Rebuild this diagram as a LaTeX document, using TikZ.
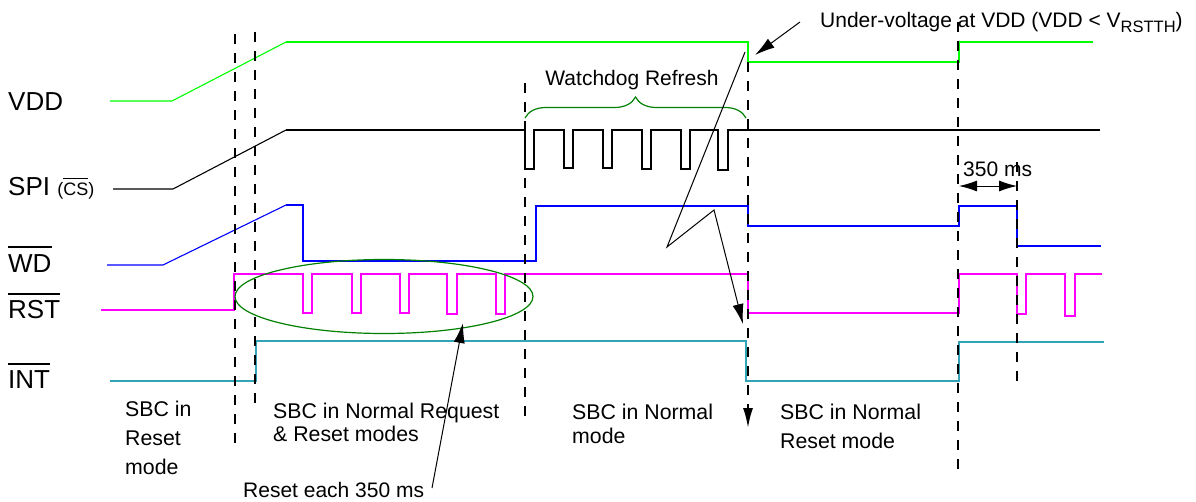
\documentclass[tikz,border=0pt]{standalone}
\usepackage{fontspec}
\setmainfont{Liberation Sans}
\usetikzlibrary{arrows.meta,decorations.pathreplacing}
\definecolor{vddgreen}{RGB}{0,255,0}
\definecolor{intteal}{RGB}{51,163,184}
\definecolor{bracegreen}{RGB}{0,128,0}
\definecolor{rstmag}{RGB}{255,0,255}
\definecolor{wdblue}{RGB}{0,0,255}
\newsavebox{\ovbox}
\newcommand\barred[3]{\sbox\ovbox{#3}\rlap{\rule[\dimexpr\ht\ovbox+#1\relax]{\wd\ovbox}{#2}}\usebox\ovbox}
\begin{document}
\begin{tikzpicture}[x=1pt,y=-1pt,
  sig/.style={line width=2pt},
  ramp/.style={line width=1.1pt},
  guide/.style={black,line width=2pt,dash pattern=on 10pt off 9pt},
  note/.style={black,line width=1pt,-{Latex[length=20pt,width=11pt]}},
  lbl/.style={font=\fontsize{26}{30}\selectfont,anchor=base west,inner sep=0pt},
  txt/.style={anchor=north west,inner sep=0pt,align=left},
]
\useasboundingbox (0,0) rectangle (1196,501);

% ---------- signals ----------
% VDD
\draw[vddgreen,ramp] (110,101) -- (172,101) -- (286,42);
\draw[vddgreen,sig] (286,42) -- (748,42) -- (748,62) -- (959,62) -- (959,42) -- (1093,42);
% SPI (CS)
\draw[black,ramp] (113,189) -- (173,189) -- (286,130);
\draw[black,sig] (286,130) -- (525,130) -- (525,169) -- (534,169) -- (534,130)
  -- (564,130) -- (564,168) -- (573,168) -- (573,130)
  -- (603,130) -- (603,168) -- (612,168) -- (612,130)
  -- (642,130) -- (642,169) -- (651,169) -- (651,130)
  -- (681,130) -- (681,169) -- (690,169) -- (690,130)
  -- (718,130) -- (718,170) -- (728,170) -- (728,130) -- (1100,130);
% WD
\draw[wdblue,ramp] (107,265) -- (163,265) -- (286,205);
\draw[wdblue,sig] (286,205) -- (303,205) -- (303,261) -- (536,261) -- (536,206) -- (748,206)
  -- (748,226) -- (959,226) -- (959,206) -- (1017,206) -- (1017,246) -- (1101,246);
% RST
\draw[rstmag,sig] (101,310) -- (234,310) -- (234,274) -- (303,274) -- (303,313) -- (312,313) -- (312,274)
  -- (352,274) -- (352,313) -- (361,313) -- (361,274)
  -- (400,274) -- (400,313) -- (409,313) -- (409,274)
  -- (447,274) -- (447,314) -- (457,314) -- (457,274)
  -- (496,274) -- (496,314) -- (505,314) -- (505,274)
  -- (748,274) -- (748,313) -- (959,313) -- (959,274)
  -- (1017,274) -- (1017,314) -- (1026,314) -- (1026,274)
  -- (1065,274) -- (1065,316) -- (1075,316) -- (1075,274) -- (1102,274);
% INT
\draw[intteal,sig] (110,381) -- (256,381) -- (256,341) -- (746,341) -- (746,381) -- (959,381) -- (959,342) -- (1104,342);

% ---------- guide lines ----------
\coordinate (g1t) at (235,34);   \coordinate (g1b) at (235,443);
\coordinate (g2t) at (255,32);   \coordinate (g2b) at (255,405);
\coordinate (g3t) at (525,83);   \coordinate (g3b) at (525,425);
\coordinate (g4t) at (748,62);   \coordinate (g4b) at (748,428);
\coordinate (g5t) at (958,22);   \coordinate (g5b) at (958,476);
\coordinate (g6t) at (1017,162); \coordinate (g6b) at (1017,388);
\draw[guide] (g1t) -- (g1b);
\draw[guide] (g2t) -- (g2b);
\draw[guide] (g3t) -- (g3b);
\draw[guide,-{Latex[length=20pt,width=10pt]}] (g4t) -- (g4b);
\draw[guide] (g5t) -- (g5b);
\draw[guide] (g6t) -- (g6b);

% 350 ms dimension
\coordinate (d1) at (959,186);
\coordinate (d2) at (1017,186);
\draw[black,line width=1pt,{Latex[length=18pt,width=11pt]}-{Latex[length=18pt,width=11pt]}] (d1) -- (d2);
\node[anchor=base west,inner sep=0pt,font=\fontsize{21}{24}\selectfont] (t350) at (963,176) {350 ms};

% ellipse and brace
\draw[bracegreen,line width=1.2pt] (384,296.5) ellipse [x radius=149pt, y radius=37pt];
\coordinate (br1) at (525,118);
\coordinate (br2) at (746,118);
\draw[bracegreen,line width=1.2pt,decorate,decoration={brace,amplitude=21pt}] (br1) -- (br2);
\node[anchor=base,inner sep=0pt,font=\fontsize{21}{24}\selectfont] (wdr) at (632,85) {Watchdog Refresh};

% ---------- annotations ----------
\node[anchor=base west,inner sep=0pt,font=\fontsize{21}{24}\selectfont] (uv) at (820,27.5)
  {Under-voltage at VDD (VDD < V\raisebox{-4.5pt}{\fontsize{16.5}{18}\selectfont RSTTH})};
\coordinate (uvtail) at (800,22);
\coordinate (uvtip) at (755,55);
\draw[note] (uvtail) -- (uvtip);

\coordinate (z1) at (745,52);
\coordinate (z2) at (667,247);
\coordinate (z3) at (714,210);
\coordinate (z4) at (743,324);
\draw[note] (z1) -- (z2) -- (z3) -- (z4);

\node[anchor=base west,inner sep=0pt,font=\fontsize{21}{24}\selectfont] (res350) at (243,497.5) {Reset each 350 ms};
\coordinate (rtail) at (432,488);
\coordinate (rtip) at (463,323);
\draw[note] (rtail) -- (rtip);

% ---------- signal labels ----------
\node[lbl] (lvdd) at (8,110) {VDD};
\node[lbl] (lspi) at (8,195) {SPI {\fontsize{18}{20}\selectfont(\barred{3.4pt}{1.4pt}{CS})}};
\node[lbl] (lwd) at (8,272) {\barred{6.4pt}{2pt}{WD}};
\node[lbl] (lrst) at (8,318) {\barred{4.4pt}{2pt}{RST}};
\node[lbl] (lint) at (8,388) {\barred{5.4pt}{2pt}{INT}};

% ---------- mode labels ----------
\node[txt,font=\fontsize{21.3}{29}\selectfont] (mreset) at (125,400.5) {SBC in\\Reset\\mode};
\node[txt,font=\fontsize{21.3}{23.5}\selectfont] (mnreq) at (273,402.5) {SBC in Normal Request\\\& Reset modes};
\node[txt,font=\fontsize{21.3}{24}\selectfont] (mnorm) at (572,403.5) {SBC in Normal\\mode};
\node[txt,font=\fontsize{21.3}{29}\selectfont] (mnres) at (780,403.5) {SBC in Normal\\Reset mode};
\end{tikzpicture}
\end{document}
